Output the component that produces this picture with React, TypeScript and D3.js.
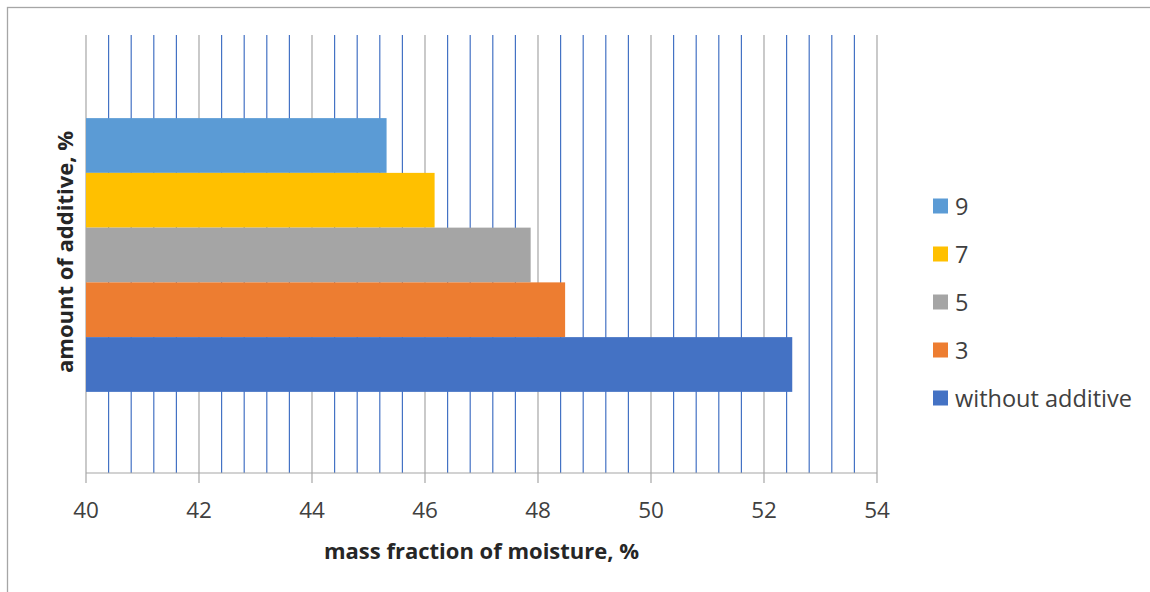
import React from "react";
import * as d3 from "d3";

const seriesNames = ["9", "7", "5", "3", "without additive"];
const seriesValues = [45.32, 46.17, 47.87, 48.48, 52.5];
const seriesColors = ["#5B9BD5", "#FFC000", "#A5A5A5", "#ED7D31", "#4472C4"];
const majorTicks = [40, 42, 44, 46, 48, 50, 52, 54];
const category = ["amount"];

const W = 1150;
const H = 592;
const left = 86;
const right = 877;
const top = 35;
const bottom = 473;
const font = "'Open Sans', sans-serif";

export default function App() {
  const x = d3.scaleLinear().domain([40, 54]).range([left, right]);
  const band = d3.scaleBand().domain(category).range([top, bottom]).paddingInner(0).paddingOuter(0.3);
  const inner = d3
    .scaleBand()
    .domain(seriesNames)
    .range([band(category[0])! + 1, band(category[0])! + band.bandwidth() + 1])
    .padding(0);
  const minor = d3.range(0, 35).map((i) => 40 + i * 0.4).filter((v) => Math.abs(v / 2 - Math.round(v / 2)) > 1e-6);

  return (
    <svg width={W} height={H} style={{ position: "absolute", left: 0, top: 0 }}>
      <rect x={0} y={0} width={W} height={H} fill="#fff" />
      <rect x={7.5} y={7.5} width={W + 10} height={H + 10} fill="#fff" stroke="#A6A6A6" strokeWidth={1.3} />
      {minor.map((v) => (
        <line key={"m" + v} x1={x(v)} x2={x(v)} y1={top} y2={bottom} stroke="#4472C4" strokeWidth={1.2} />
      ))}
      {majorTicks.map((v) => (
        <line key={"g" + v} x1={x(v)} x2={x(v)} y1={top} y2={bottom} stroke="#A6A6A6" strokeWidth={1.2} />
      ))}
      {seriesNames.map((s, i) => (
        <rect
          key={s}
          x={x(40)}
          y={inner(s)}
          width={x(seriesValues[i]) - x(40)}
          height={inner.bandwidth()}
          fill={seriesColors[i]}
        />
      ))}
      <line x1={left} x2={right} y1={bottom} y2={bottom} stroke="#A6A6A6" strokeWidth={1.2} />
      {majorTicks.map((v) => (
        <g key={"t" + v}>
          <line x1={x(v)} x2={x(v)} y1={bottom} y2={bottom + 10} stroke="#A6A6A6" strokeWidth={1.2} />
          <text x={x(v)} y={518} textAnchor="middle" fontFamily={font} fontSize={22.5} fill="#404040">
            {v}
          </text>
        </g>
      ))}
      <text x={(left + right) / 2} y={559} textAnchor="middle" fontFamily={font} fontSize={22} fontWeight="bold" fill="#262626">
        mass fraction of moisture, %
      </text>
      <text
        transform={`translate(73, ${(top + bottom) / 2 - 2}) rotate(-90)`}
        textAnchor="middle"
        fontFamily={font}
        fontSize={22}
        fontWeight="bold"
        fill="#262626"
      >
        amount of additive, %
      </text>
      {seriesNames.map((s, i) => (
        <g key={"l" + s} transform={`translate(933, ${206 + i * 48})`}>
          <rect x={0} y={-7.5} width={15} height={15} fill={seriesColors[i]} />
          <text x={22} y={8.5} fontFamily={font} fontSize={23.5} fill="#404040">
            {s}
          </text>
        </g>
      ))}
    </svg>
  );
}
